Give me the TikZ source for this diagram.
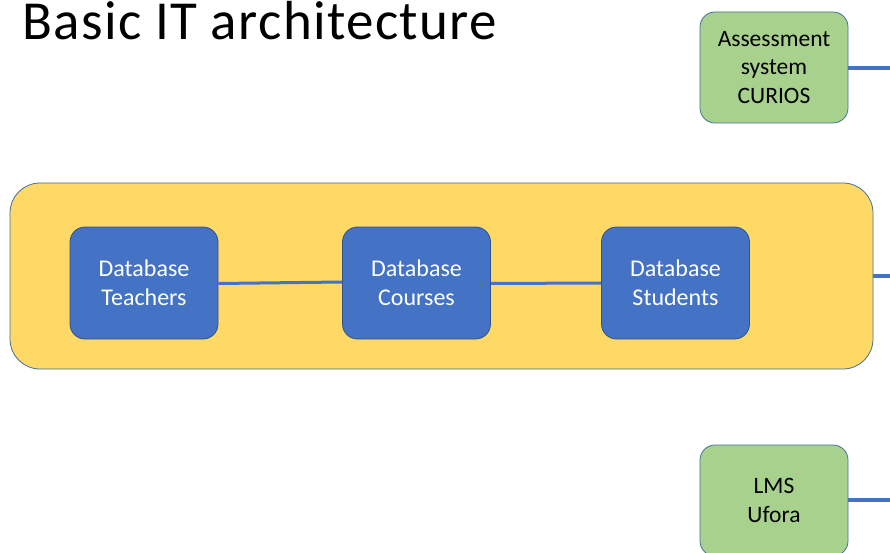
\documentclass[tikz,border=0pt]{standalone}
\usepackage{fontspec}
\setmainfont{Carlito}
\definecolor{boxblue}{HTML}{4472C4}
\definecolor{edgeblue}{HTML}{2F528F}
\definecolor{greyblue}{HTML}{41719C}
\definecolor{sysgreen}{HTML}{A9D18E}
\definecolor{coreyellow}{HTML}{FFD966}
\tikzset{
  dbbox/.style={draw=edgeblue, fill=boxblue, line width=0.8pt, rounded corners=15pt,
    minimum width=148pt, minimum height=112pt, inner sep=0pt, align=center,
    text=white, font=\fontsize{24}{29}\selectfont},
  sysbox/.style={draw=greyblue, fill=sysgreen, line width=0.8pt, rounded corners=15pt,
    minimum width=148pt, minimum height=111pt, inner sep=0pt, align=center,
    text=black, font=\fontsize{23.5}{28.5}\selectfont},
  corebox/.style={draw=greyblue, fill=coreyellow, line width=0.8pt, rounded corners=30pt,
    minimum width=863pt, minimum height=186pt, inner sep=0pt},
  link/.style={draw=boxblue, line width=3.5pt},
  innerlink/.style={draw=boxblue, line width=3pt}
}
\begin{document}
\begin{tikzpicture}[x=1pt, y=-1pt]
  \useasboundingbox (0,0) rectangle (890,553);
  \clip (0,0) rectangle (890,553);

  % title
  \node[anchor=base west, inner sep=0pt,
        font=\fontsize{55}{60}\selectfont\addfontfeatures{LetterSpace=2.5}] (title) at (22,40) {Basic IT architecture};

  % central data layer with the three databases
  \node[corebox] (core) at (441.5,276) {};
  \node[dbbox] (teach) at (144,283) {Database\\Teachers};
  \node[dbbox] (course) at (416.5,283) {Database\\Courses};
  \node[dbbox] (stud) at (675.5,283) {Database\\Students};

  % external systems
  \node[sysbox] (curios) at (774,67.5) {Assessment\\system\\CURIOS};
  \node[sysbox] (ufora) at (774,500.5) {LMS\\Ufora};

  % links leaving the picture on the right
  \coordinate (outA) at (890,68);
  \coordinate (outB) at (890,276);
  \coordinate (outC) at (890,500);

  \draw[innerlink] ([yshift=-0.5pt]teach.east) -- ([yshift=1pt]course.west);
  \draw[innerlink] ([yshift=-0.5pt]course.east) -- ([yshift=0pt]stud.west);
  \draw[link] (curios.east |- outA) -- (outA);
  \draw[link] (core.east |- outB) -- (outB);
  \draw[link] (ufora.east |- outC) -- (outC);
\end{tikzpicture}
\end{document}
